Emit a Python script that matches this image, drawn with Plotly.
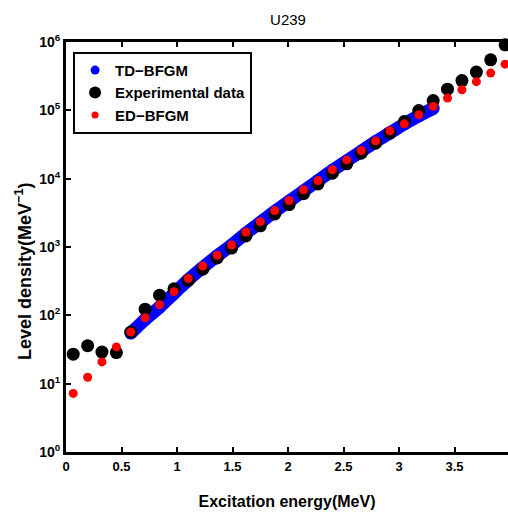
import plotly.graph_objects as go

# Excitation energies (MeV)
energy = [0.065, 0.195, 0.324, 0.454, 0.584, 0.713, 0.843, 0.973, 1.102, 1.232,
          1.362, 1.492, 1.621, 1.751, 1.881, 2.010, 2.140, 2.270, 2.400, 2.529,
          2.659, 2.789, 2.918, 3.048, 3.178, 3.308, 3.437, 3.567, 3.697, 3.826, 3.956]

# Experimental level density
exp_data = [27, 36, 29, 28.5, 57, 123, 197, 245, 325, 473,
            690, 966, 1450, 2040, 3050, 4170, 6030, 8390, 12000, 16500,
            23600, 33100, 46400, 68500, 99300, 139000, 204000, 273000, 363000, 549000, 910000]

# ED-BFGM
ed_bfgm = [7.2, 12.4, 20.8, 34.5, 57, 92, 143, 222, 347, 528,
           758, 1070, 1660, 2350, 3410, 4790, 6860, 9380, 13500, 18800,
           25800, 35700, 50100, 63500, 86000, 114000, 151000, 200000, 263000, 351000, 474000]

# TD-BFGM (from 0.584 MeV to 3.308 MeV)
td_energy = energy[4:26]
td_bfgm = [55, 87, 132, 209, 331, 501, 741, 1070, 1590, 2290, 3310,
           4680, 6610, 9330, 13200, 18200, 25100, 34700, 46800, 63100, 83200, 107000]

y_tickvals = [1, 10, 100, 1000, 10000, 100000, 1000000]
y_ticktext = ["10<sup>0</sup>", "10<sup>1</sup>", "10<sup>2</sup>", "10<sup>3</sup>",
              "10<sup>4</sup>", "10<sup>5</sup>", "10<sup>6</sup>"]
x_tickvals = [0, 0.5, 1, 1.5, 2, 2.5, 3, 3.5, 4]
x_ticktext = ["0", "0.5", "1", "1.5", "2", "2.5", "3", "3.5", "4"]

NARROW = "Liberation Sans Narrow, Arial Narrow, Liberation Sans, Arial, sans-serif"
SANS = "Liberation Sans, Arial, sans-serif"

fig = go.Figure()

fig.add_trace(go.Scatter(
    x=td_energy, y=td_bfgm, mode="lines+markers", line=dict(color="#0000ff", width=13, shape="spline"),
    marker=dict(color="#0000ff", size=13), showlegend=False, cliponaxis=False, hoverinfo="skip"))
fig.add_trace(go.Scatter(
    x=energy, y=exp_data, mode="markers", marker=dict(color="black", size=13),
    showlegend=False, cliponaxis=False))
fig.add_trace(go.Scatter(
    x=energy, y=ed_bfgm, mode="markers", marker=dict(color="#ff0000", size=9),
    showlegend=False, cliponaxis=False))

# legend entries
fig.add_trace(go.Scatter(x=[None], y=[None], mode="markers", name="TD\u2212BFGM",
                         marker=dict(color="#0000ff", size=9)))
fig.add_trace(go.Scatter(x=[None], y=[None], mode="markers", name="Experimental data",
                         marker=dict(color="black", size=12)))
fig.add_trace(go.Scatter(x=[None], y=[None], mode="markers", name="ED\u2212BFGM",
                         marker=dict(color="#ff0000", size=7)))

fig.update_layout(
    width=508, height=513,
    margin=dict(l=66, r=0, t=42, b=61),
    paper_bgcolor="white", plot_bgcolor="white",
    title=dict(text="U239", x=(288) / 508, xanchor="center", y=1 - 20 / 513, yanchor="middle",
               font=dict(family=SANS, size=15, color="black")),
    legend=dict(x=0.016, y=0.976, xanchor="left", yanchor="top",
                bordercolor="black", borderwidth=2, bgcolor="white",
                font=dict(family=NARROW, size=15, color="black", weight="bold"),
                itemsizing="trace", tracegroupgap=0),
    xaxis=dict(range=[0, 3.982], tickvals=x_tickvals, ticktext=x_ticktext,
               ticks="inside", ticklen=5, tickwidth=2, tickcolor="black",
               showline=True, linewidth=3, linecolor="black", mirror="ticks",
               showgrid=False, zeroline=False,
               tickfont=dict(family=NARROW, size=13, color="black", weight="bold"),
               title=dict(text="Excitation energy(MeV)", standoff=24,
                          font=dict(family=NARROW, size=16, color="black", weight="bold"))),
    yaxis=dict(type="log", range=[0, 6], tickvals=y_tickvals, ticktext=y_ticktext,
               ticks="inside", ticklen=5, tickwidth=2, tickcolor="black",
               showline=True, linewidth=3, linecolor="black",
               showgrid=False, zeroline=False,
               tickfont=dict(family=NARROW, size=14, color="black", weight="bold")),
    annotations=[dict(text="Level density(MeV<sup>\u22121</sup>)", textangle=-90,
                      xref="paper", yref="paper", x=-(66 - 23) / 442, y=(452 - 272) / 410,
                      xanchor="center", yanchor="middle", showarrow=False,
                      font=dict(family=SANS, size=18, color="black", weight="bold"))],
)

fig.write_html("out.html")
